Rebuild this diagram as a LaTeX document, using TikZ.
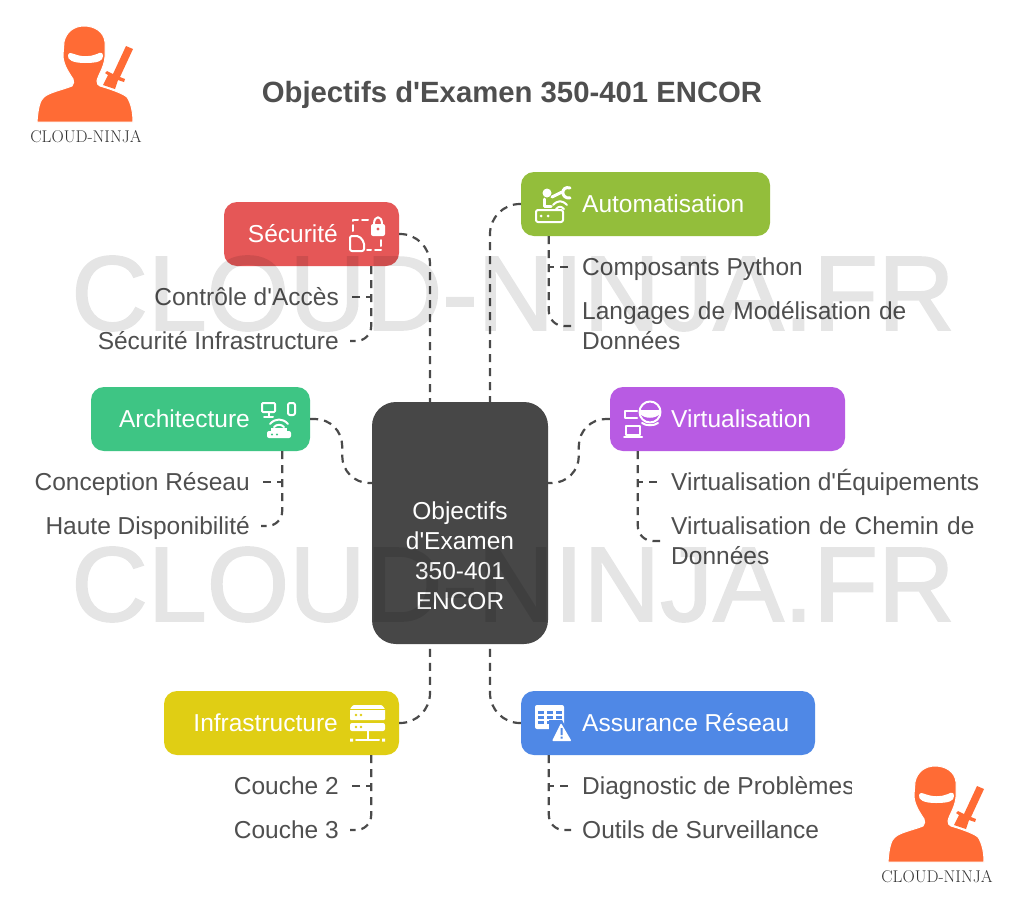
\documentclass[tikz,border=0pt]{standalone}
\usepackage{fontspec}
\usetikzlibrary{calc}
\newfontfamily\labelfont{Liberation Sans}
\newfontfamily\markfont[FakeBold=1.6]{Liberation Sans}
\definecolor{ninjaorange}{HTML}{FF6B35}
\definecolor{inktext}{HTML}{4F4F4F}
\definecolor{linkgray}{HTML}{4A4A4A}
\definecolor{secured}{RGB}{229,87,87}
\definecolor{autogreen}{RGB}{147,190,59}
\definecolor{archigreen}{RGB}{62,197,132}
\definecolor{virtpurple}{RGB}{184,91,227}
\definecolor{infrayellow}{RGB}{224,206,20}
\definecolor{assurblue}{RGB}{79,136,230}
\tikzset{
    catbox/.style={draw=none, rounded corners=13, minimum height=64, inner sep=0},
    cattext/.style={text=white, inner sep=0, text height=16.5, text depth=0, font=\labelfont\fontsize{24.5}{30}\selectfont},
    subtext/.style={text=inktext, inner ysep=0, inner xsep=11, align=left, font=\labelfont\fontsize{24.5}{30}\selectfont},
    subline/.style={subtext, text height=16.5, text depth=0},
    link/.style={draw=linkgray, line width=2.2, dash pattern=on 8 off 6},
    icon/.style={draw=white, line width=2, line cap=round, line join=round},
    wmark/.style={text=black, inner sep=0, text height=76, text depth=0, font=\markfont\fontsize{106}{106}\selectfont},
    ninjalogo/.pic={
        \fill[ninjaorange] (126,46) -- (133,49) -- (120,77) -- (125,79) -- (124,82) -- (118,80) -- (115,89) -- (103,85) -- (108,75) -- (105,73) -- (107,71) -- (113,74) -- cycle;
        \draw[fill=ninjaorange, draw=white, line width=1] (37,122) .. controls (38,108) and (40,100) .. (44,97) .. controls (50,92) and (62,90) .. (72,86) .. controls (74,84) and (74,81) .. (73,79) .. controls (67,70) and (63,63) .. (63,55) -- (64,42) .. controls (66,32) and (74,26) .. (84,26) .. controls (95,26) and (104,32) .. (105,42) -- (105,57) .. controls (104,68) and (98,75) .. (97,81) .. controls (97,84) and (98,85) .. (100,86) .. controls (110,89) and (122,93) .. (127,97) .. controls (131,103) and (133,112) .. (133,122) -- cycle;
        \fill[white] (68,55) .. controls (69,52) and (72,53) .. (74,54) .. controls (82,57) and (90,57) .. (97,54) .. controls (100,52) and (103,52) .. (103,56) .. controls (103,61) and (98,63) .. (85,63) .. controls (73,63) and (67,60) .. (68,55) -- cycle;
        \node[inner sep=0, text=black!80, font=\fontsize{17}{17}\selectfont] (-name) at (86,137) {CLOUD-NINJA};
    },
}
\begin{document}
\begin{tikzpicture}[x=1pt, y=-1pt]
    \useasboundingbox (0,0) rectangle (1024,913);
    \fill[white] (0,0) rectangle (1024,913);

    \node[text=inktext, inner sep=0, text height=20, text depth=0, font=\labelfont\bfseries\fontsize{29.3}{30}\selectfont] (title) at (512,92) {Objectifs d'Examen 350-401 ENCOR};

    \node[fill=black!72, rounded corners=24, minimum width=176, minimum height=242, inner sep=0] (central) at (460,523) {};
    \node[text=white, inner sep=0, align=center, font=\labelfont\fontsize{24.5}{30}\selectfont] (centraltxt) at (460,556) {Objectifs\\d'Examen\\350-401\\ENCOR};

    \node[catbox, fill=secured, minimum width=175] (secu) at (311.5,234) {};
    \node[catbox, fill=autogreen, minimum width=249] (auto) at (645.5,204) {};
    \node[catbox, fill=archigreen, minimum width=219] (archi) at (200.5,419) {};
    \node[catbox, fill=virtpurple, minimum width=235] (virt) at (727.5,419) {};
    \node[catbox, fill=infrayellow, minimum width=235] (infra) at (281.5,723) {};
    \node[catbox, fill=assurblue, minimum width=294] (assur) at (668,723) {};

    \node[cattext, anchor=east] (secutxt) at (338,234) {Sécurité};
    \node[cattext, anchor=west] (autotxt) at (582,204) {Automatisation};
    \node[cattext, anchor=east] (architxt) at (250,419) {Architecture};
    \node[cattext, anchor=west] (virttxt) at (671,419) {Virtualisation};
    \node[cattext, anchor=east] (infratxt) at (338,723) {Infrastructure};
    \node[cattext, anchor=west] (assurtxt) at (582,723) {Assurance Réseau};

    \node[subline, anchor=east] (ctrl) at (350,297) {Contrôle d'Accès};
    \node[subline, anchor=east] (secinf) at (350,341) {Sécurité Infrastructure};
    \node[subline, anchor=west] (python) at (571,267) {Composants Python};
    \node[subtext, anchor=west, text width=340] (yang) at (571,326) {Langages de Modélisation de\\Données};
    \node[subline, anchor=east] (concep) at (261,482) {Conception Réseau};
    \node[subline, anchor=east] (haute) at (261,526) {Haute Disponibilité};
    \node[subline, anchor=west] (equip) at (660,482) {Virtualisation d'Équipements};
    \node[subtext, anchor=west, text width=340] (chemin) at (660,541) {Virtualisation de Chemin de\\Données};
    \node[subline, anchor=east] (couche2) at (350,786) {Couche 2};
    \node[subline, anchor=east] (couche3) at (350,830) {Couche 3};
    \begin{scope}
        \clip (0,0) rectangle (851,913);
        \node[subline, anchor=west] (diag) at (571,786) {Diagnostic de Problèmes};
    \end{scope}
    \node[subline, anchor=west] (outils) at (571,830) {Outils de Surveillance};

    \draw[link, rounded corners=30] (secu.east) -| ($(central.north)+(-30,0)$);
    \draw[link, rounded corners=30] (auto.west) -| ($(central.north)+(30,0)$);
    \draw[link, rounded corners=30] (infra.east) -| ($(central.south)+(-30,0)$);
    \draw[link, rounded corners=30] (assur.west) -| ($(central.south)+(30,0)$);
    \coordinate (archiin) at (372,483);
    \coordinate (virtin) at (548,483);
    \draw[link, rounded corners=27] (archi.east) -- ++(32,0) -- ++(0,64) -- (archiin);
    \draw[link, rounded corners=27] (virt.west) -- ++(-31,0) -- ++(0,64) -- (virtin);

    \draw[link] ($(secu.south east)+(-28,0)$) |- (ctrl.east);
    \draw[link, rounded corners=15] ($(secu.south east)+(-28,0)$) |- (secinf.east);
    \draw[link] ($(auto.south west)+(28,0)$) |- (python.west);
    \draw[link, rounded corners=15] ($(auto.south west)+(28,0)$) |- (yang.west);
    \draw[link] ($(archi.south east)+(-28,0)$) |- (concep.east);
    \draw[link, rounded corners=15] ($(archi.south east)+(-28,0)$) |- (haute.east);
    \draw[link] ($(virt.south west)+(28,0)$) |- (equip.west);
    \draw[link, rounded corners=15] ($(virt.south west)+(28,0)$) |- (chemin.west);
    \draw[link] ($(infra.south east)+(-28,0)$) |- (couche2.east);
    \draw[link, rounded corners=15] ($(infra.south east)+(-28,0)$) |- (couche3.east);
    \draw[link] ($(assur.south west)+(28,0)$) |- (diag.west);
    \draw[link, rounded corners=15] ($(assur.south west)+(28,0)$) |- (outils.west);

    \fill[white, rounded corners=2] (371,224) rectangle (385,236);
    \draw[icon] (374,224) .. controls (374,215) and (382,215) .. (382,224);
    \fill[secured] (378,229) circle[radius=1.6];
    \draw[icon, dash pattern=on 6 off 4] (353,231) -- (353,220) -- (368,220);
    \draw[icon, dash pattern=on 6 off 4] (381,240) -- (381,250) -- (367,250);
    \draw[icon, rounded corners=2] (350,251) -- (350,236) -- (359,236) -- (364,242) -- (364,251) -- cycle;

    \draw[icon, rounded corners=2] (536,210) rectangle (563,222);
    \fill[white] (541,216) circle[radius=1.5] (548,216) circle[radius=1.5];
    \fill[white] (547,193) circle[radius=4.5];
    \draw[icon, line width=3] (544,199) -- (544,206) -- (551,206);
    \draw[icon, line width=3] (552,197) -- (562,192);
    \draw[icon, line width=3] (570,188) .. controls (561,185) and (560,199) .. (570,198);
    \draw[icon] (553,205) .. controls (558,200) and (562,200) .. (567,205);
    \draw[icon] (556,209) .. controls (559,206) and (561,206) .. (564,209);

    \draw[icon, rounded corners=1] (262,403) rectangle (275,412);
    \draw[icon] (268.5,412) -- (268.5,417) (264,417) -- (273,417);
    \draw[icon, rounded corners=2] (288,403) rectangle (295,415);
    \draw[icon] (270,424) .. controls (275,418) and (283,418) .. (288,424);
    \draw[icon] (274,427) .. controls (277,424) and (281,424) .. (284,427);
    \fill[white, rounded corners=2] (267,431) rectangle (291,438);
    \fill[white] (271,428) rectangle (287,432);
    \fill[archigreen] (272,434.5) circle[radius=1.2] (277,434.5) circle[radius=1.2];

    \draw[icon] (650,412) circle[radius=10.5];
    \fill[white] (640,410) -- (660,410) -- (660,414) .. controls (655,419) and (645,419) .. (640,414) -- cycle;
    \draw[icon] (642,423) .. controls (646,426) and (654,426) .. (658,423);
    \draw[icon] (637,411) -- (625,411) -- (625,418) -- (637,418);
    \draw[icon] (626,426) rectangle (640,435);
    \draw[icon] (624,437) -- (642,437);

    \fill[white, rounded corners=1] (353,705) -- (382,705) -- (385,709) -- (385,720) -- (350,720) -- (350,709) -- cycle;
    \fill[white, rounded corners=2] (350,723) rectangle (385,731);
    \draw[icon] (367.5,731) -- (367.5,740);
    \draw[icon] (356,740) -- (379,740);
    \fill[white] (350,738.5) rectangle (353,741.5) (382,738.5) rectangle (385,741.5);
    \fill[infrayellow] (356,715) circle[radius=1.3] (361,715) circle[radius=1.3] (356,727) circle[radius=1.3] (361,727) circle[radius=1.3];
    \draw[infrayellow, line width=1] (350,709) -- (385,709);

    \fill[white, rounded corners=2] (535,705) rectangle (564,729);
    \foreach \xa in {538,547,556} {
        \foreach \ya in {711,716,721} {
            \fill[assurblue] (\xa,\ya) rectangle (\xa+6,\ya+3);
        }
    }
    \fill[assurblue] (549,720) -- (562,720) -- (574,743) -- (549,743) -- cycle;
    \fill[white, rounded corners=1] (561,723) -- (571.5,741) -- (552,741) -- cycle;
    \fill[assurblue] (560.5,728) rectangle (562.5,735) (560.5,736.5) rectangle (562.5,738.5);

    \pic (logoa) at (0,0) {ninjalogo};
    \pic (logob) at (851,740) {ninjalogo};

    \begin{scope}[transparency group, opacity=0.1]
        \node[wmark] (marka) at (513,292) {CLOUD-NINJA.FR};
        \node[wmark] (markb) at (513,583) {CLOUD-NINJA.FR};
    \end{scope}
\end{tikzpicture}
\end{document}
